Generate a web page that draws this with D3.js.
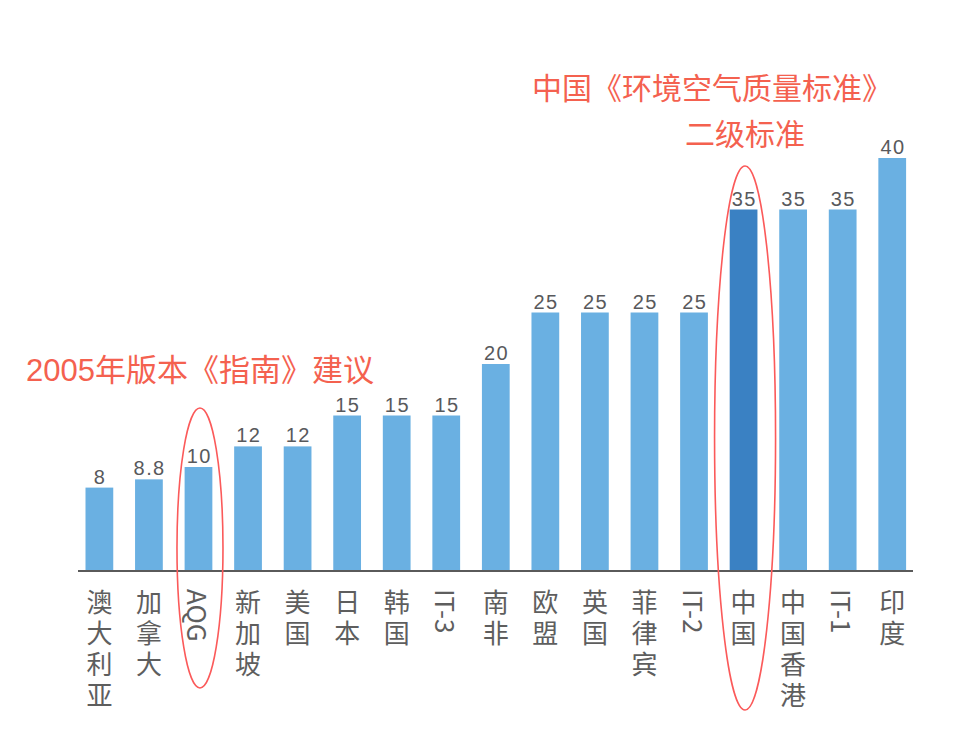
<!DOCTYPE html>
<html><head><meta charset="utf-8">
<script src="https://cdn.jsdelivr.net/npm/d3@7"></script>
<style>
html,body{margin:0;padding:0;background:#fff;}
svg{display:block;}
</style></head>
<body>
<svg id="chart" width="960" height="750"></svg>
<script>
const categories = ["澳大利亚","加拿大","AQG","新加坡","美国","日本","韩国","IT-3","南非","欧盟","英国","菲律宾","IT-2","中国","中国香港","IT-1","印度"];
const values = [8, 8.8, 10, 12, 12, 15, 15, 15, 20, 25, 25, 25, 25, 35, 35, 35, 40];
const valueLabels = ["8","8.8","10","12","12","15","15","15","20","25","25","25","25","35","35","35","40"];
const highlight = ["中国"];
const annotations = [
  {text:"中国《环境空气质量标准》", x:712, y:88, size:30},
  {text:"二级标准", x:745, y:134, size:30},
  {text:"2005年版本《指南》建议", x:200, y:370, size:31}
];

const svg = d3.select("#chart");
const baseY = 570;
const x = d3.scaleBand().domain(categories).range([74.6, 917]).paddingInner(0.44).paddingOuter(0.22);
const y = d3.scaleLinear().domain([0, 40]).range([baseY, 158]);
const bw = x.bandwidth();
const fontLatin = "'Liberation Sans', 'Noto Sans CJK SC', sans-serif";

// bars
svg.append("g").selectAll("rect").data(categories).join("rect")
  .attr("x", d => x(d))
  .attr("y", (d,i) => y(values[i]))
  .attr("width", bw)
  .attr("height", (d,i) => baseY - y(values[i]))
  .attr("fill", d => highlight.includes(d) ? "#3a81c3" : "#6ab0e2");

// value labels
svg.append("g").selectAll("text").data(categories).join("text")
  .attr("x", d => x(d) + bw/2 + 0.7)
  .attr("y", (d,i) => y(values[i]) - 4)
  .attr("text-anchor", "middle")
  .attr("font-family", fontLatin)
  .attr("font-size", 20)
  .attr("letter-spacing", 1.4)
  .attr("fill", "#58595c")
  .text((d,i) => valueLabels[i]);

// axis line
svg.append("line").attr("x1", 78).attr("x2", 913).attr("y1", baseY + 1).attr("y2", baseY + 1)
  .attr("stroke", "#5a5a5a").attr("stroke-width", 2);

// category labels (vertical writing mode)
svg.append("g").selectAll("text").data(categories).join("text")
  .attr("x", d => x(d) + bw/2)
  .attr("y", 589)
  .attr("writing-mode", "vertical-rl")
  .style("writing-mode", "vertical-rl")
  .style("text-orientation", "mixed")
  .attr("font-family", "'Noto Sans CJK SC', sans-serif")
  .attr("font-size", 26)
  .attr("letter-spacing", d => /^[A-Za-z0-9\-]+$/.test(d) ? 0 : 5)
  .attr("fill", "#5e5e5e")
  .text(d => d);

// ellipses
const ell = [
  {cat:"AQG", top:408, bottom:688, rx:23},
  {cat:"中国", top:166, bottom:710, rx:30.5}
];
svg.append("g").selectAll("ellipse").data(ell).join("ellipse")
  .attr("cx", d => x(d.cat) + bw/2 + 1.5)
  .attr("cy", d => (d.top + d.bottom)/2)
  .attr("rx", d => d.rx)
  .attr("ry", d => (d.bottom - d.top)/2)
  .attr("fill", "none")
  .attr("stroke", "#fb5a5a")
  .attr("stroke-width", 1.6);

// annotations
svg.append("g").selectAll("text").data(annotations).join("text")
  .attr("x", d => d.x).attr("y", d => d.y)
  .attr("dy", "0.36em")
  .attr("text-anchor", "middle")
  .attr("font-family", fontLatin)
  .attr("font-size", d => d.size)
  .attr("fill", "#f4614f")
  .text(d => d.text);
</script>
</body></html>
